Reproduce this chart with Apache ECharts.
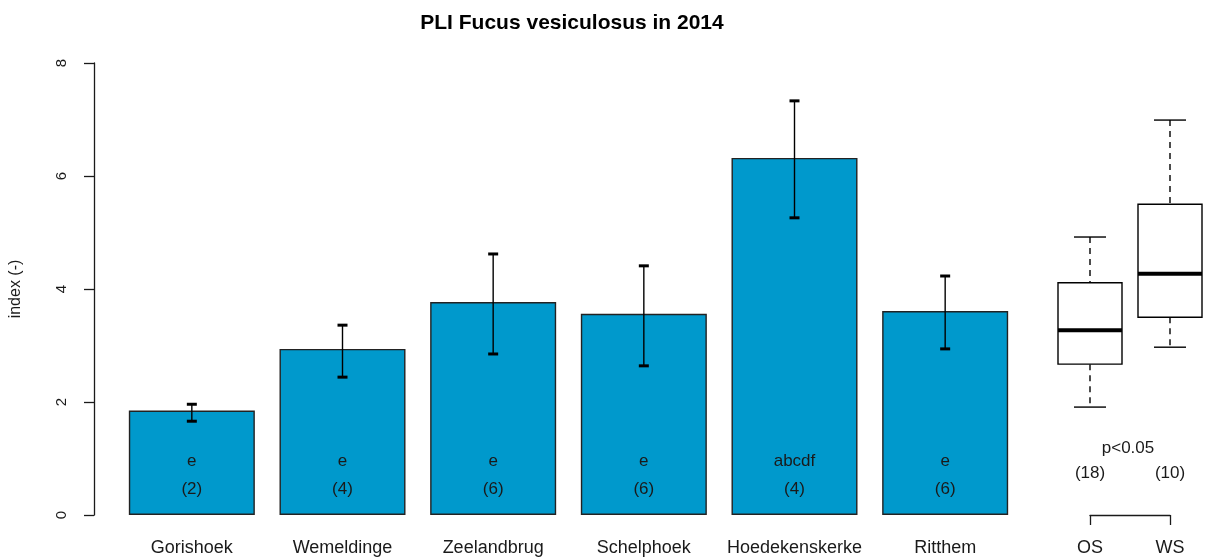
<!DOCTYPE html>
<html>
<head>
<meta charset="utf-8">
<script src="https://cdn.jsdelivr.net/npm/echarts@6/dist/echarts.min.js"></script>
<style>
  html, body { margin: 0; padding: 0; background: #fff; }
  #chart { width: 1206px; height: 558px; }
</style>
</head>
<body>
<div id="chart"></div>
<script>
// bar data per site
const sites = ["Gorishoek", "Wemeldinge", "Zeelandbrug", "Schelphoek", "Hoedekenskerke", "Ritthem"];
const means = [1.85, 2.94, 3.77, 3.56, 6.32, 3.61];
const errLow = [1.66, 2.44, 2.85, 2.64, 5.26, 2.94];
const errHigh = [1.96, 3.36, 4.62, 4.41, 7.33, 4.23];
const letters = ["e", "e", "e", "e", "abcdf", "e"];
const counts = [2, 4, 6, 6, 4, 6];

// boxplot OS / WS
const groups = ["OS", "WS"];
const boxStats = [
  [1.91, 2.67, 3.27, 4.11, 4.92],
  [2.97, 3.50, 4.27, 5.50, 6.99]
];
const groupCounts = [18, 10];
const yTicks = [0, 2, 4, 6, 8];

const font = "Liberation Sans, Arial, sans-serif";
const ink = "#1a1a1a";

const chart = echarts.init(document.getElementById("chart"));

const option = {
  backgroundColor: "#fff",
  animation: false,
  title: {
    text: "PLI Fucus vesiculosus in 2014",
    left: 567,
    top: 8,
    textAlign: "center",
    textStyle: { fontFamily: font, fontSize: 21, fontWeight: "bold", color: "#000" }
  },
  grid: [
    { left: 115.5, top: 63, width: 905, height: 452 },
    { left: 1090, top: 63, width: 80, height: 452 }
  ],
  xAxis: [
    {
      type: "category",
      gridIndex: 0,
      data: sites,
      axisLine: { show: false },
      axisTick: { show: false },
      axisLabel: { interval: 0, fontFamily: font, fontSize: 18, color: ink, margin: 24 }
    },
    {
      type: "category",
      gridIndex: 1,
      data: groups,
      boundaryGap: false,
      axisLine: { lineStyle: { color: ink, width: 1.3 } },
      axisTick: { length: 10, lineStyle: { color: ink, width: 1.3 } },
      axisLabel: { interval: 0, fontFamily: font, fontSize: 18, color: ink, margin: 24 }
    }
  ],
  yAxis: [
    {
      type: "value",
      gridIndex: 0,
      min: yTicks[0],
      max: yTicks[yTicks.length - 1],
      interval: 2,
      offset: 22.5,
      name: "index (-)",
      nameLocation: "middle",
      nameGap: 70,
      nameTextStyle: { fontFamily: font, fontSize: 16, color: ink },
      axisLine: { show: true, lineStyle: { color: ink, width: 1.3 } },
      axisTick: { show: true, length: 10, lineStyle: { color: ink, width: 1.3 } },
      axisLabel: { rotate: 90, fontFamily: font, fontSize: 15, color: ink, margin: 25 },
      splitLine: { show: false }
    },
    {
      type: "value",
      gridIndex: 1,
      min: 0,
      max: 8,
      interval: 2,
      show: false
    }
  ],
  series: [
    {
      type: "bar",
      xAxisIndex: 0,
      yAxisIndex: 0,
      data: means,
      barWidth: 126,
      itemStyle: { color: "#0099CC", borderColor: "#222", borderWidth: 1.4 },
      label: {
        show: true,
        position: "insideBottom",
        distance: 12,
        fontFamily: font,
        fontSize: 17,
        lineHeight: 28,
        color: ink,
        formatter: (p) => letters[p.dataIndex] + "\n(" + counts[p.dataIndex] + ")"
      }
    },
    {
      type: "custom",
      xAxisIndex: 0,
      yAxisIndex: 0,
      data: sites.map((s, i) => [i, errLow[i], errHigh[i]]),
      renderItem: (params, api) => {
        const lo = api.coord([api.value(0), api.value(1)]);
        const hi = api.coord([api.value(0), api.value(2)]);
        const hw = 5;
        return {
          type: "group",
          children: [
            { type: "line", shape: { x1: lo[0], y1: lo[1], x2: hi[0], y2: hi[1] }, style: { stroke: "#000", lineWidth: 1.4 } },
            { type: "line", shape: { x1: lo[0] - hw, y1: lo[1], x2: lo[0] + hw, y2: lo[1] }, style: { stroke: "#000", lineWidth: 3 } },
            { type: "line", shape: { x1: hi[0] - hw, y1: hi[1], x2: hi[0] + hw, y2: hi[1] }, style: { stroke: "#000", lineWidth: 3 } }
          ]
        };
      },
      z: 5
    },
    {
      type: "custom",
      xAxisIndex: 1,
      yAxisIndex: 1,
      clip: false,
      data: boxStats.map((b, i) => [i].concat(b)),
      renderItem: (params, api) => {
        const x = api.value(0);
        const pMin = api.coord([x, api.value(1)]);
        const pQ1 = api.coord([x, api.value(2)]);
        const pMed = api.coord([x, api.value(3)]);
        const pQ3 = api.coord([x, api.value(4)]);
        const pMax = api.coord([x, api.value(5)]);
        const cx = pMin[0];
        const bw = 32, cw = 16;
        const thin = { stroke: "#000", lineWidth: 1.4 };
        const dash = { stroke: "#000", lineWidth: 1.4, lineDash: [6, 5] };
        return {
          type: "group",
          children: [
            { type: "line", shape: { x1: cx, y1: pMax[1], x2: cx, y2: pQ3[1] }, style: dash },
            { type: "line", shape: { x1: cx, y1: pQ1[1], x2: cx, y2: pMin[1] }, style: dash },
            { type: "line", shape: { x1: cx - cw, y1: pMax[1], x2: cx + cw, y2: pMax[1] }, style: thin },
            { type: "line", shape: { x1: cx - cw, y1: pMin[1], x2: cx + cw, y2: pMin[1] }, style: thin },
            { type: "rect", shape: { x: cx - bw, y: pQ3[1], width: bw * 2, height: pQ1[1] - pQ3[1] }, style: { fill: "#fff", stroke: "#000", lineWidth: 1.4 } },
            { type: "line", shape: { x1: cx - bw, y1: pMed[1], x2: cx + bw, y2: pMed[1] }, style: { stroke: "#000", lineWidth: 4 } }
          ]
        };
      }
    }
  ],
  graphic: [
    { type: "text", x: 1128, y: 448, style: { text: "p<0.05", font: "17px " + font, fill: ink, align: "center", verticalAlign: "middle" } },
    { type: "text", x: 1090, y: 473, style: { text: "(" + groupCounts[0] + ")", font: "17px " + font, fill: ink, align: "center", verticalAlign: "middle" } },
    { type: "text", x: 1170, y: 473, style: { text: "(" + groupCounts[1] + ")", font: "17px " + font, fill: ink, align: "center", verticalAlign: "middle" } }
  ]
};

chart.setOption(option);
</script>
</body>
</html>
